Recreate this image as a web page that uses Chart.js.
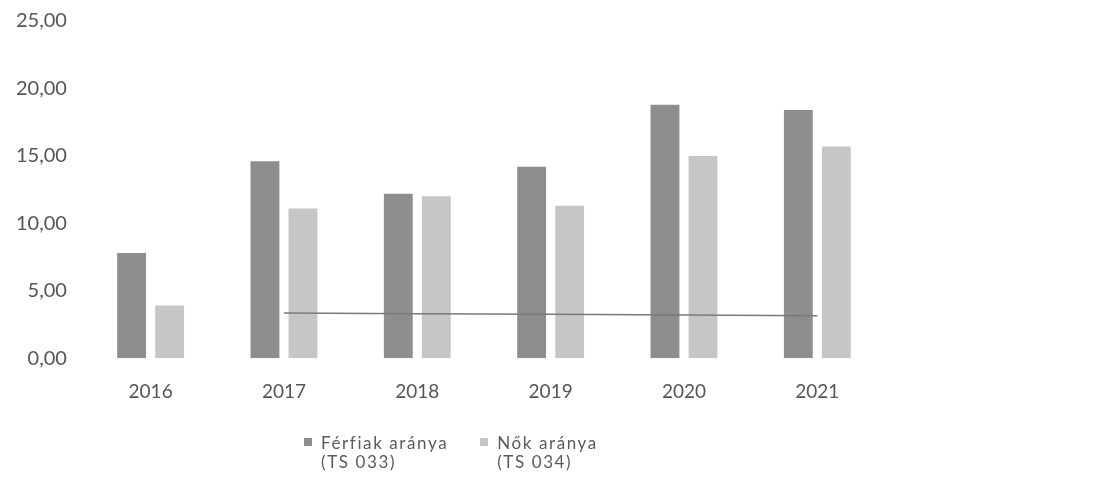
<!DOCTYPE html>
<html>
<head>
<meta charset="utf-8">
<script src="https://cdn.jsdelivr.net/npm/chart.js@4.4.1/dist/chart.umd.min.js"></script>
<style>
  html, body { margin: 0; padding: 0; background: #fff; }
  #wrap { position: relative; width: 1102px; height: 482px; }
  #legend { position: absolute; left: 304px; top: 433px; display: flex;
            font-family: Lato, sans-serif; font-size: 17px; letter-spacing: 1.6px; color: #5a5a5a; line-height: 19px; }
  .item { display: flex; align-items: flex-start; }
  .item + .item { margin-left: 32px; }
  .sw { width: 8px; height: 8px; margin: 5px 9px 0 0; }
</style>
</head>
<body>
<div id="wrap">
  <canvas id="chartCanvas" width="1102" height="482"></canvas>
  <div id="legend">
    <div class="item"><span class="sw" style="background:#8e8e8e"></span><span>Férfiak aránya<br>(TS 033)</span></div>
    <div class="item"><span class="sw" style="background:#c6c6c6"></span><span>Nők aránya<br>(TS 034)</span></div>
  </div>
</div>
<script>
// adatok
const evek = ['2016', '2017', '2018', '2019', '2020', '2021'];
const ferfiak = [7.8, 14.6, 12.2, 14.2, 18.8, 18.4];
const nok = [3.9, 11.1, 12.0, 11.3, 15.0, 15.7];
const vonal = [null, 3.35, 3.3, 3.25, 3.2, 3.15];

const ctx = document.getElementById('chartCanvas').getContext('2d');
const chart = new Chart(ctx, {
    type: 'bar',
    data: {
        labels: evek,
        datasets: [{
            label: 'Férfiak aránya (TS 033)',
            data: ferfiak,
            backgroundColor: '#8e8e8e',
            order: 1
        }, {
            label: 'Nők aránya (TS 034)',
            data: nok,
            backgroundColor: '#c6c6c6',
            order: 1
        }, {
            type: 'line',
            label: '',
            data: vonal,
            borderColor: '#7a7a7a',
            borderWidth: 1.5,
            pointRadius: 0,
            fill: false,
            order: 0
        }]
    },
    options: {
        responsive: false,
        animation: false,
        categoryPercentage: 0.57,
        barPercentage: 0.76,
        layout: { padding: { left: 7, right: 218, top: 21, bottom: 65 } },
        plugins: {
            legend: { display: false },
            tooltip: { enabled: false }
        },
        scales: {
            x: {
                grid: { display: false },
                border: { display: false },
                ticks: { color: '#555', padding: 14, font: { family: 'Lato', size: 19 } }
            },
            y: {
                min: 0,
                max: 25,
                grid: { display: false },
                border: { display: false },
                ticks: {
                    stepSize: 5,
                    color: '#555',
                    padding: 9,
                    font: { family: 'Lato', size: 20 },
                    callback: v => v.toFixed(2).replace('.', ',')
                }
            }
        }
    }
});
</script>
</body>
</html>
